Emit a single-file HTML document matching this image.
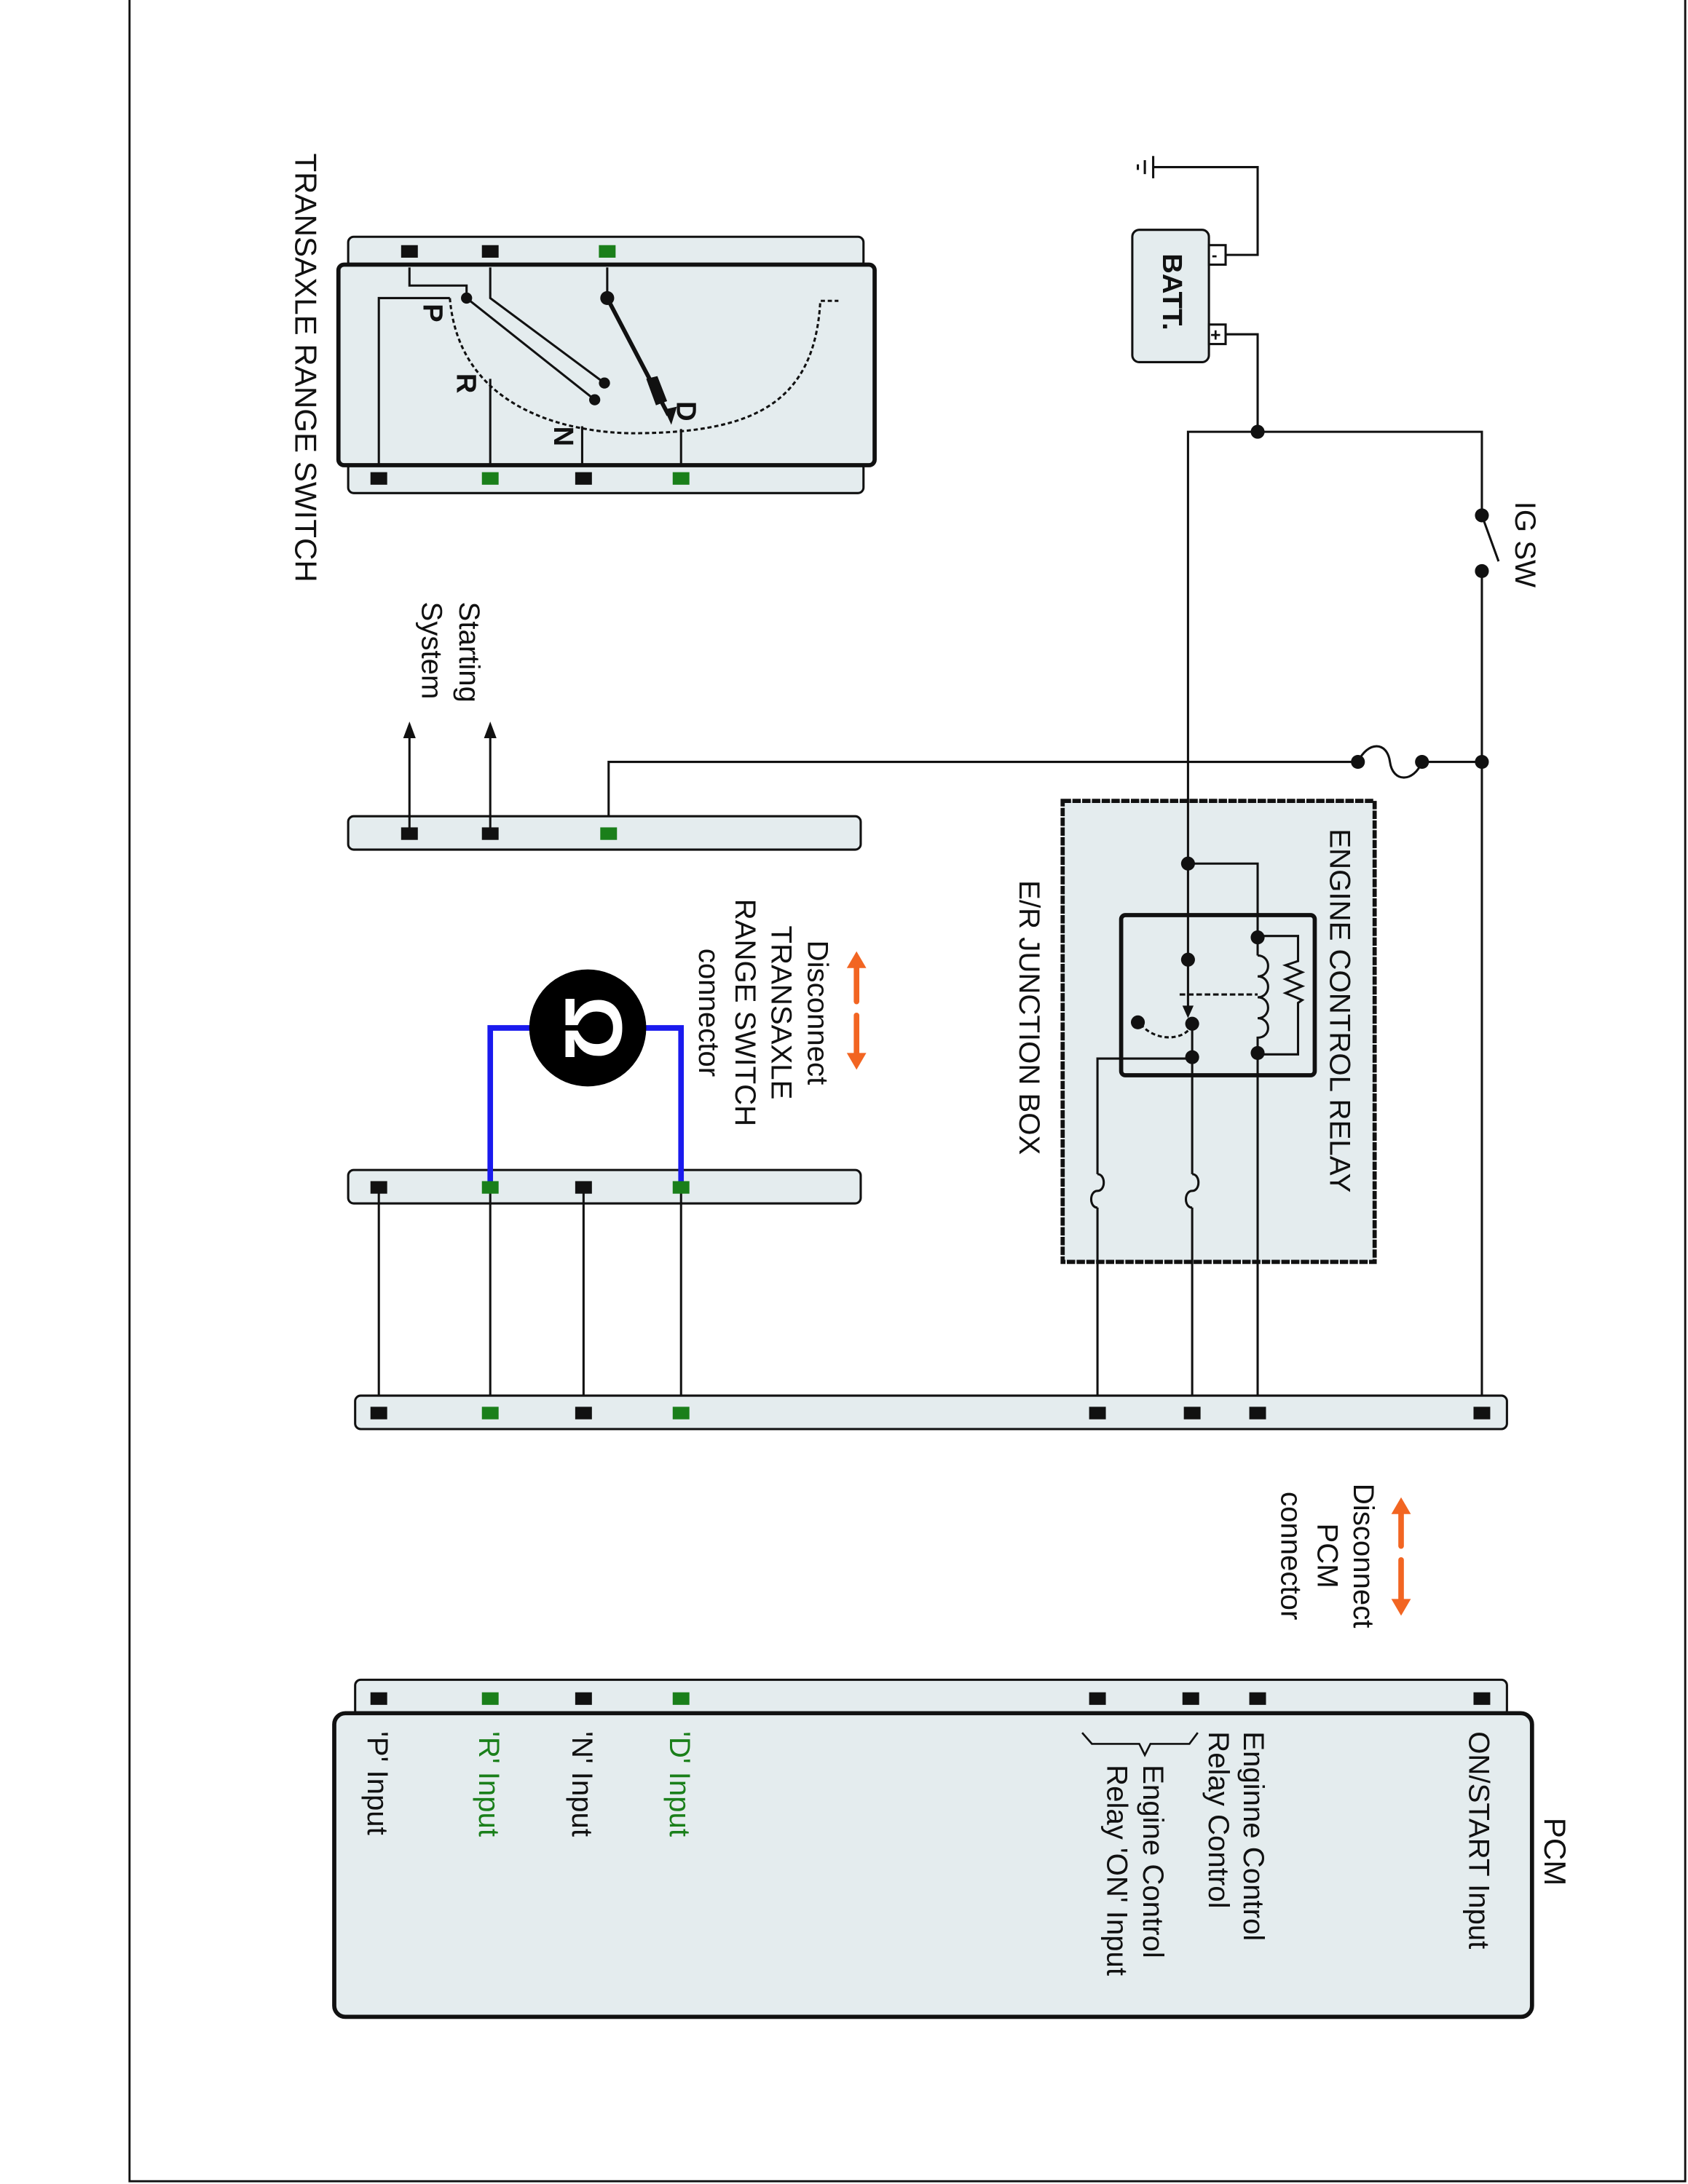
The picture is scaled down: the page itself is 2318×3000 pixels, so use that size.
<!DOCTYPE html>
<html><head><meta charset="utf-8"><style>
html,body{margin:0;padding:0;background:#fff;}
svg{display:block;}
text{font-family:"Liberation Sans",Arial,sans-serif;font-size:21px;fill:#111;}
</style></head><body>
<svg width="2318" height="3000" viewBox="0 0 1212 1568" preserveAspectRatio="none" xmlns="http://www.w3.org/2000/svg">
<rect x="0" y="0" width="1212" height="1568" fill="#fff"/>
<path d="M93,0 V1566 H1210 V0" fill="none" stroke="#111" stroke-width="1.5"/>

<g stroke="#111" stroke-width="1.6" fill="none">
<rect x="250" y="170" width="370" height="22" rx="4" fill="#e4ecee"/>
<rect x="250" y="332" width="370" height="22" rx="4" fill="#e4ecee"/>
<rect x="243" y="190" width="385" height="144" rx="4" fill="#e4ecee" stroke-width="3"/>
<path d="M294,192 V205 H335 V214"/>
<line x1="335" y1="214" x2="427" y2="287"/>
<path d="M352,192 V214 L434,275"/>
<line x1="436" y1="192" x2="436" y2="214"/>
<line x1="436" y1="214" x2="480" y2="298" stroke-width="3"/>
<path d="M272,334 V214 H323"/>
<line x1="352" y1="334" x2="352" y2="272"/>
<line x1="418" y1="334" x2="418" y2="306"/>
<line x1="489" y1="334" x2="489" y2="308"/>
<path d="M323,214 C330,300 420,312 460,311 C540,310 585,290 589,216 H602" stroke-dasharray="3,2"/>
</g>
<g fill="#111">
<circle cx="335" cy="214" r="4"/><circle cx="427" cy="287" r="4"/><circle cx="434" cy="275" r="4"/><circle cx="436" cy="214" r="5"/>
<polygon points="482,305 477,294 486,292"/>
<polygon points="464,272 472,270 479,288 471,291"/>
</g>
<g>
<rect x="288" y="176" width="12" height="9" fill="#111"/>
<rect x="346" y="176" width="12" height="9" fill="#111"/>
<rect x="430" y="176" width="12" height="9" fill="#1a7f1a"/>
<rect x="266" y="339" width="12" height="9" fill="#111"/>
<rect x="346" y="339" width="12" height="9" fill="#1a7f1a"/>
<rect x="413" y="339" width="12" height="9" fill="#111"/>
<rect x="483" y="339" width="12" height="9" fill="#1a7f1a"/>
</g>
<text transform="translate(304,218) rotate(90)" style="font-weight:bold;font-size:20px">P</text>
<text transform="translate(328,268) rotate(90)" style="font-weight:bold;font-size:20px">R</text>
<text transform="translate(398,306) rotate(90)" style="font-weight:bold;font-size:20px">N</text>
<text transform="translate(486,288) rotate(90)" style="font-weight:bold;font-size:20px">D</text>
<text transform="translate(212,110) rotate(90)" style="font-size:22px">TRANSAXLE RANGE SWITCH</text>

<!-- ER junction box (drawn first) -->
<rect x="763" y="575" width="224" height="331" fill="#e4ecee" stroke="#111" stroke-width="3" stroke-dasharray="6,1"/>
<text transform="translate(955,595) rotate(90)">ENGINE CONTROL RELAY</text>
<text transform="translate(732,632) rotate(90)">E/R JUNCTION BOX</text>

<g stroke="#111" stroke-width="1.6" fill="none">
<path d="M878,183 H903 V120 H828"/>
<line x1="828" y1="112" x2="828" y2="128"/>
<line x1="822" y1="115" x2="822" y2="125"/>
<line x1="817" y1="118" x2="817" y2="122"/>
<rect x="813" y="165" width="55" height="95" rx="5" fill="#e4ecee"/>
<rect x="868" y="176" width="12" height="14" fill="#fff"/>
<rect x="868" y="233" width="12" height="14" fill="#fff"/>
<path d="M880,240 H903 V310"/>
<path d="M853,724 V310 H1064 V370"/>
<line x1="1064" y1="370" x2="1076" y2="403"/>
<path d="M1064,410 V1013"/>
<path d="M1064,547 H1021"/>
<path d="M1021,547 C1015,562 1000,562 998,547 C996,532 982,532 975,547"/>
<path d="M975,547 H437 V598"/>
</g>
<text x="870" y="187" style="font-size:12px;font-weight:bold">-</text>
<text x="869" y="245" style="font-size:13px;font-weight:bold">+</text>
<text transform="translate(835,182) rotate(90)" style="font-weight:bold;font-size:20px">BATT.</text>
<g fill="#111">
<circle cx="903" cy="310" r="5"/><circle cx="1064" cy="370" r="5"/><circle cx="1064" cy="410" r="5"/>
<circle cx="1064" cy="547" r="5"/><circle cx="1021" cy="547" r="5"/><circle cx="975" cy="547" r="5"/>
</g>
<text transform="translate(1088,360) rotate(90)">IG SW</text>

<rect x="250" y="586" width="368" height="24" rx="4" fill="#e4ecee" stroke="#111" stroke-width="1.6"/>
<g stroke="#111" stroke-width="1.6"><line x1="294" y1="598" x2="294" y2="526"/><line x1="352" y1="598" x2="352" y2="526"/></g>
<polygon points="294,518 289.5,530 298.5,530" fill="#111"/>
<polygon points="352,518 347.5,530 356.5,530" fill="#111"/>
<rect x="288" y="594" width="12" height="9" fill="#111"/>
<rect x="346" y="594" width="12" height="9" fill="#111"/>
<rect x="431" y="594" width="12" height="9" fill="#1a7f1a"/>
<text transform="translate(330,432) rotate(90)">Starting</text>
<text transform="translate(303,432) rotate(90)">System</text>

<rect x="805" y="657" width="139" height="115" rx="3" fill="none" stroke="#111" stroke-width="3"/>
<g stroke="#111" stroke-width="1.6" fill="none">
<path d="M853,620 H903 V686"/>
<path d="M903,686 c10,0 10,15 0,15 c10,0 10,15 0,15 c10,0 10,15 0,15 c10,0 10,14 0,14 V757"/>
<path d="M903,672 H932 V690 l-9,3 l12,5 l-12,5 l12,5 l-12,5 l12,5 l-3,2 V757 H903"/>
<line x1="847" y1="714" x2="903" y2="714" stroke-dasharray="4,2"/>
<path d="M856,736 C850,748 828,748 818,734" stroke-dasharray="3,2"/>
<path d="M856,736 V1013"/>
<path d="M856,760 H788 V1013"/>
<path d="M903,757 V1013"/>
</g>
<polygon points="853,731 849,722 857,722" fill="#111"/>
<g stroke="#e4ecee" stroke-width="4"><line x1="788" y1="843" x2="788" y2="867"/><line x1="856" y1="843" x2="856" y2="867"/></g>
<g stroke="#111" stroke-width="1.6" fill="none">
<path d="M788,843 c6,0 6,12 0,12 c-6,0 -6,12 0,12"/>
<path d="M856,843 c6,0 6,12 0,12 c-6,0 -6,12 0,12"/>
</g>
<g fill="#111">
<circle cx="853" cy="620" r="5"/><circle cx="903" cy="673" r="5"/><circle cx="853" cy="689" r="5"/>
<circle cx="856" cy="735" r="5"/><circle cx="817" cy="734" r="5"/><circle cx="856" cy="759" r="5"/><circle cx="903" cy="756" r="5"/>
</g>

<rect x="250" y="840" width="368" height="24" rx="4" fill="#e4ecee" stroke="#111" stroke-width="1.6"/>
<g stroke="#111" stroke-width="1.6">
<line x1="272" y1="852" x2="272" y2="1014"/><line x1="352" y1="852" x2="352" y2="1014"/>
<line x1="419" y1="852" x2="419" y2="1014"/><line x1="489" y1="852" x2="489" y2="1014"/>
</g>
<path d="M352,852 V738 H489 V852" fill="none" stroke="#1a1aee" stroke-width="4"/>
<circle cx="422" cy="738" r="42" fill="#000"/>
<text transform="translate(406,738) rotate(90)" text-anchor="middle" style="font-size:58px;fill:#fff;font-weight:bold">Ω</text>
<rect x="346" y="848" width="12" height="9" fill="#1a7f1a"/>
<rect x="483" y="848" width="12" height="9" fill="#1a7f1a"/>
<rect x="266" y="848" width="12" height="9" fill="#111"/>
<rect x="413" y="848" width="12" height="9" fill="#111"/>
<g stroke="#f26522" stroke-width="4" stroke-linecap="round"><line x1="615" y1="693" x2="615" y2="719"/><line x1="615" y1="729" x2="615" y2="756"/></g>
<polygon points="615,683 608,695 622,695" fill="#f26522"/>
<polygon points="615,768 608,756 622,756" fill="#f26522"/>
<g text-anchor="middle">
<text transform="translate(580,727) rotate(90)">Disconnect</text>
<text transform="translate(554,727) rotate(90)">TRANSAXLE</text>
<text transform="translate(528,727) rotate(90)">RANGE SWITCH</text>
<text transform="translate(502,727) rotate(90)">connector</text>
</g>

<rect x="255" y="1002" width="827" height="24" rx="4" fill="#e4ecee" stroke="#111" stroke-width="1.6"/>
<g>
<rect x="266" y="1010" width="12" height="9" fill="#111"/><rect x="346" y="1010" width="12" height="9" fill="#1a7f1a"/>
<rect x="413" y="1010" width="12" height="9" fill="#111"/><rect x="483" y="1010" width="12" height="9" fill="#1a7f1a"/>
<rect x="782" y="1010" width="12" height="9" fill="#111"/><rect x="850" y="1010" width="12" height="9" fill="#111"/>
<rect x="897" y="1010" width="12" height="9" fill="#111"/><rect x="1058" y="1010" width="12" height="9" fill="#111"/>
</g>

<g stroke="#f26522" stroke-width="4" stroke-linecap="round"><line x1="1006" y1="1085" x2="1006" y2="1110"/><line x1="1006" y1="1120" x2="1006" y2="1148"/></g>
<polygon points="1006,1075 999,1087 1013,1087" fill="#f26522"/>
<polygon points="1006,1160 999,1148 1013,1148" fill="#f26522"/>
<g text-anchor="middle">
<text transform="translate(972,1117) rotate(90)">Disconnect</text>
<text transform="translate(946,1117) rotate(90)">PCM</text>
<text transform="translate(920,1117) rotate(90)">connector</text>
</g>

<rect x="255" y="1206" width="827" height="26" rx="4" fill="#e4ecee" stroke="#111" stroke-width="1.6"/>
<rect x="240" y="1230" width="860" height="218" rx="8" fill="#e4ecee" stroke="#111" stroke-width="3"/>
<g>
<rect x="266" y="1215" width="12" height="9" fill="#111"/><rect x="346" y="1215" width="12" height="9" fill="#1a7f1a"/>
<rect x="413" y="1215" width="12" height="9" fill="#111"/><rect x="483" y="1215" width="12" height="9" fill="#1a7f1a"/>
<rect x="782" y="1215" width="12" height="9" fill="#111"/><rect x="849" y="1215" width="12" height="9" fill="#111"/>
<rect x="897" y="1215" width="12" height="9" fill="#111"/><rect x="1058" y="1215" width="12" height="9" fill="#111"/>
</g>
<text transform="translate(1109,1305) rotate(90)" style="font-size:22px">PCM</text>
<text transform="translate(1055,1243) rotate(90)">ON/START Input</text>
<text transform="translate(893,1243) rotate(90)">Enginne Control</text>
<text transform="translate(868,1243) rotate(90)">Relay Control</text>
<text transform="translate(821,1267) rotate(90)">Engine Control</text>
<text transform="translate(795,1267) rotate(90)">Relay 'ON' Input</text>
<path d="M860,1244 L854,1252 H826 L822,1260 L818,1252 H784 L777,1244" fill="none" stroke="#111" stroke-width="1.4"/>
<text transform="translate(481,1243) rotate(90)" style="fill:#1a7f1a">'D' Input</text>
<text transform="translate(411,1243) rotate(90)">'N' Input</text>
<text transform="translate(344,1243) rotate(90)" style="fill:#1a7f1a">'R' Input</text>
<text transform="translate(264,1243) rotate(90)">'P' Input</text>
</svg>
</body></html>
